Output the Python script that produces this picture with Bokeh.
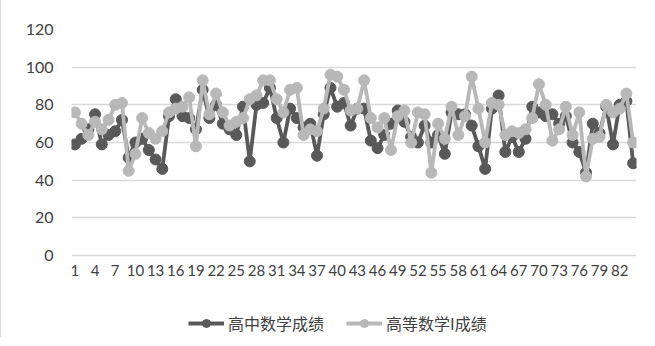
from bokeh.plotting import figure
from bokeh.models import FixedTicker, Legend, LegendItem, ColumnDataSource
from bokeh.embed import file_html
from bokeh.resources import INLINE

idx = list(range(1, 85))
high_school = [59, 62, 67, 75, 59, 64, 66, 72, 52, 60, 62, 56, 51, 46, 74, 83, 74, 73, 67, 88,
               73, 80, 70, 67, 64, 79, 50, 80, 81, 89, 73, 60, 78, 73, 68, 70, 53, 75, 89, 79,
               81, 69, 78, 78, 61, 57, 64, 70, 77, 71, 63, 60, 69, 60, 64, 54, 76, 75, 75, 69,
               58, 46, 78, 85, 55, 63, 55, 62, 79, 76, 74, 75, 70, 74, 60, 55, 44, 70, 65, 79,
               59, 80, 82, 49]
advanced = [76, 70, 64, 71, 67, 72, 80, 81, 45, 54, 73, 65, 62, 66, 76, 78, 79, 84, 58, 93,
            75, 86, 76, 69, 71, 73, 83, 85, 93, 93, 83, 76, 88, 89, 64, 67, 66, 78, 96, 95,
            88, 77, 78, 93, 73, 68, 73, 56, 74, 77, 60, 76, 75, 44, 70, 62, 79, 64, 74, 95,
            78, 60, 81, 80, 64, 66, 65, 67, 73, 91, 80, 61, 67, 79, 64, 76, 42, 62, 63, 80,
            76, 78, 86, 60]
x_ticks = list(range(1, 85, 3))
y_ticks = [0, 20, 40, 60, 80, 100, 120]
names = ["高中数学成绩", "高等数学I成绩"]

dark = "#595959"
light = "#b8b8b8"

src = ColumnDataSource(dict(x=idx, a=high_school, b=advanced))

p = figure(frame_width=565, frame_height=308, output_backend="svg", toolbar_location=None,
           x_range=(0.5, 84.5), y_range=(-43.5, 120),
           min_border_left=70, min_border_right=10, min_border_top=29, min_border_bottom=0)
p.outline_line_color = None
p.border_fill_color = "white"
p.background_fill_color = "white"

l1 = p.line("x", "a", source=src, line_color=dark, line_width=3.8)
s1 = p.scatter("x", "a", source=src, size=11, fill_color=dark, line_color=dark)
l2 = p.line("x", "b", source=src, line_color=light, line_width=3.8)
s2 = p.scatter("x", "b", source=src, size=11, fill_color=light, line_color=light)

p.xaxis.ticker = FixedTicker(ticks=x_ticks)
p.yaxis.ticker = FixedTicker(ticks=y_ticks)
p.xaxis.fixed_location = 0
for ax in (p.xaxis, p.yaxis):
    ax.axis_line_color = None
    ax.major_tick_line_color = None
    ax.minor_tick_line_color = None
    ax.major_label_text_color = "#404040"
    ax.major_label_text_font = "Lato"
    ax.major_label_text_font_size = "15px"
p.yaxis.major_label_text_font_size = "16px"
p.xaxis.major_label_standoff = 3
p.yaxis.major_label_standoff = 12
p.xgrid.grid_line_color = None
p.ygrid.grid_line_color = "#d9d9d9"
p.ygrid.grid_line_width = 1.5

legend = Legend(items=[LegendItem(label=names[0], renderers=[l1, s1]),
                       LegendItem(label=names[1], renderers=[l2, s2])],
                orientation="horizontal", location=(117, 2),
                label_text_font="Noto Sans CJK SC", label_text_font_size="16px",
                label_text_color="#404040", glyph_width=36, label_standoff=4, spacing=22,
                border_line_color=None, background_fill_alpha=0, margin=0, padding=0)
p.add_layout(legend)
p.styles = {"border-left": "1px solid #d9d9d9"}

open("out.html", "w").write(file_html(p, INLINE))
